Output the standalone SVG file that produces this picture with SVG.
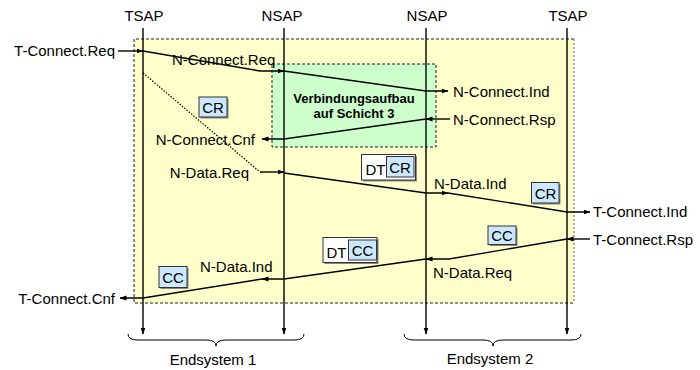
<svg xmlns="http://www.w3.org/2000/svg" width="700" height="370" viewBox="0 0 700 370">
  <defs>
    <marker id="arr" markerWidth="7" markerHeight="6" refX="6.5" refY="3" orient="auto" markerUnits="userSpaceOnUse">
      <path d="M0,0.5 L7,3 L0,5.5 Z" fill="#000"/>
    </marker>
    <style>
      text { font-family: "Liberation Sans", Arial, sans-serif; font-size: 15px; fill: #000; }
      .bold { font-weight: bold; font-size: 13px; }
      .msg { fill: none; stroke: #000; stroke-width: 1.4; }
      .arrow { marker-end: url(#arr); }
      .life { fill: none; stroke: #000; stroke-width: 1.4; marker-end: url(#arr); }
      .brace { fill: none; stroke: #000; stroke-width: 1; }
      .pdu { fill: #cce8ff; stroke: #333; stroke-width: 1; }
      .pduw { fill: #fff; stroke: #333; stroke-width: 1; }
      .shadow { fill: #888; }
    </style>
  </defs>

  <!-- transport layer area -->
  <g id="area-transport">
    <rect x="134" y="39" width="440" height="264" fill="#ffffcc"/>
    <path d="M574,39 H134 V303 H574" fill="none" stroke="#222" stroke-width="1" stroke-dasharray="3,2"/>
    <path d="M574,39 V303" fill="none" stroke="#777" stroke-width="1.2" stroke-dasharray="2,2"/>
  </g>

  <!-- network layer connection setup -->
  <g id="area-network">
    <rect x="272" y="64" width="164" height="83" fill="#ccffcc" stroke="#222" stroke-width="1" stroke-dasharray="3,2"/>
    <text class="bold" x="354" y="103" text-anchor="middle">Verbindungsaufbau</text>
    <text class="bold" x="354" y="118" text-anchor="middle">auf Schicht 3</text>
  </g>

  <!-- service access points -->
  <g id="sap-tsap1">
    <text x="144" y="21" text-anchor="middle">TSAP</text>
    <path class="life" d="M143,28 V334"/>
  </g>
  <g id="sap-nsap1">
    <text x="282" y="21" text-anchor="middle">NSAP</text>
    <path class="life" d="M284,28 V334"/>
  </g>
  <g id="sap-nsap2">
    <text x="427" y="21" text-anchor="middle">NSAP</text>
    <path class="life" d="M426,28 V334"/>
  </g>
  <g id="sap-tsap2">
    <text x="568" y="21" text-anchor="middle">TSAP</text>
    <path class="life" d="M567,28 V334"/>
  </g>

  <!-- message flow -->
  <g id="connectors">
    <path class="msg arrow" d="M118,51 H143"/>
    <path class="msg arrow" d="M143,51 L260,71 H284"/>
    <path class="msg arrow" d="M284,71 L426,91 H448"/>
    <path class="msg arrow" d="M450,119 H426"/>
    <path class="msg arrow" d="M426,119 L284,139 H262"/>
    <path d="M143,73 L260,172" fill="none" stroke="#000" stroke-width="1.2" stroke-dasharray="1.5,1.5"/>
    <path class="msg arrow" d="M260,172 H284"/>
    <path class="msg arrow" d="M284,173 L426,193 H448"/>
    <path class="msg arrow" d="M448,193 L567,212 H590"/>
    <path class="msg arrow" d="M590,239 H567"/>
    <path class="msg arrow" d="M567,239 L449,259 H426"/>
    <path class="msg arrow" d="M426,259 L284,279 H262"/>
    <path class="msg arrow" d="M262,279 L143,298 H120"/>
  </g>

  <!-- primitive labels -->
  <g id="labels">
    <text x="115" y="56" text-anchor="end">T-Connect.Req</text>
    <text x="172" y="65">N-Connect.Req</text>
    <text x="453" y="97">N-Connect.Ind</text>
    <text x="453" y="125">N-Connect.Rsp</text>
    <text x="255" y="145" text-anchor="end">N-Connect.Cnf</text>
    <text x="249" y="178" text-anchor="end">N-Data.Req</text>
    <text x="434" y="189">N-Data.Ind</text>
    <text x="593" y="217">T-Connect.Ind</text>
    <text x="593" y="245">T-Connect.Rsp</text>
    <text x="433" y="278">N-Data.Req</text>
    <text x="200" y="272">N-Data.Ind</text>
    <text x="115" y="304" text-anchor="end">T-Connect.Cnf</text>
  </g>

  <!-- transport PDUs -->
  <g id="pdu-cr1">
    <rect class="shadow" x="200.5" y="98.5" width="28" height="20"/>
    <rect class="pdu" x="199" y="97" width="28" height="20"/>
    <text x="213" y="112.5" text-anchor="middle">CR</text>
  </g>
  <g id="pdu-dt-cr">
    <rect class="shadow" x="363" y="156" width="54" height="25.5"/>
    <rect class="pduw" x="361.5" y="154.5" width="54" height="25.5"/>
    <text x="375.5" y="175" text-anchor="middle">DT</text>
    <rect class="pdu" x="386.5" y="156.5" width="27.5" height="20.5"/>
    <text x="400" y="172.5" text-anchor="middle">CR</text>
  </g>
  <g id="pdu-cr2">
    <rect class="shadow" x="533" y="184" width="27.5" height="20.5"/>
    <rect class="pdu" x="531.5" y="182.5" width="27.5" height="20.5"/>
    <text x="545.5" y="198.5" text-anchor="middle">CR</text>
  </g>
  <g id="pdu-cc1">
    <rect class="shadow" x="489.5" y="227.5" width="28" height="18.5"/>
    <rect class="pdu" x="488" y="226" width="28" height="18.5"/>
    <text x="502" y="241" text-anchor="middle">CC</text>
  </g>
  <g id="pdu-dt-cc">
    <rect class="shadow" x="324.5" y="239" width="54" height="25"/>
    <rect class="pduw" x="323" y="237.5" width="54" height="25"/>
    <text x="336.5" y="258" text-anchor="middle">DT</text>
    <rect class="pdu" x="348.5" y="240" width="28" height="20"/>
    <text x="362.5" y="255.5" text-anchor="middle">CC</text>
  </g>
  <g id="pdu-cc2">
    <rect class="shadow" x="160.5" y="268" width="28" height="21"/>
    <rect class="pdu" x="159" y="266.5" width="28" height="21"/>
    <text x="173" y="282.5" text-anchor="middle">CC</text>
  </g>

  <!-- end systems -->
  <g id="endsystem-1">
    <path class="brace" d="M128,334 Q128,340 138,340 H206 Q216,340 216,346 Q216,340 226,340 H294 Q304,340 304,334"/>
    <text x="213" y="365" text-anchor="middle">Endsystem 1</text>
  </g>
  <g id="endsystem-2">
    <path class="brace" d="M404,334 Q404,340 414,340 H483 Q493,340 493,346 Q493,340 503,340 H571 Q581,340 581,334"/>
    <text x="490" y="364" text-anchor="middle">Endsystem 2</text>
  </g>
</svg>
